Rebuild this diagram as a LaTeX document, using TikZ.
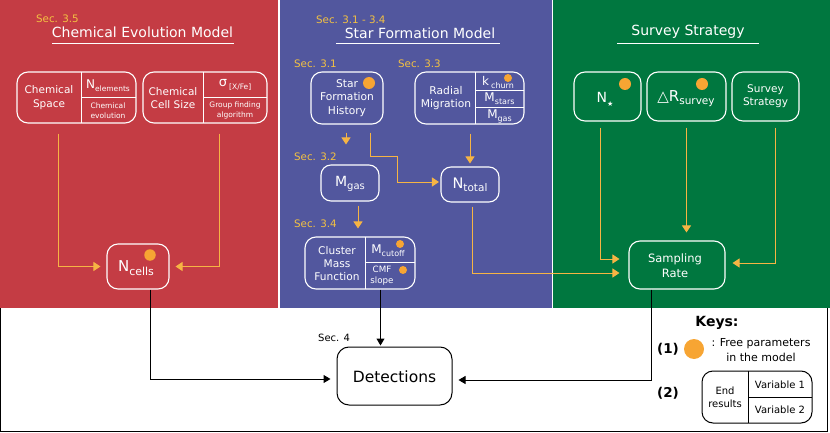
\documentclass[tikz,border=0pt]{standalone}
\usepackage{fontspec}
\setmainfont{DejaVu Sans}
\usetikzlibrary{arrows.meta,calc}
\definecolor{redp}{HTML}{C43C44}
\definecolor{bluep}{HTML}{52579E}
\definecolor{greenp}{HTML}{00773F}
\definecolor{yarr}{HTML}{F6B444}
\definecolor{secy}{HTML}{F3C142}
\definecolor{dotc}{HTML}{F7A533}
\newcommand{\fsz}[2]{\fontsize{#1}{#2}\selectfont}
\newcommand{\sbx}[2]{\raisebox{-0.45ex}{\fontsize{#1}{#1}\selectfont #2}}
\tikzset{
  wbox/.style={draw=white, line width=1.1pt, rounded corners=11pt, inner sep=0pt},
  btxt/.style={text=white, align=center, inner sep=0pt},
  ttl/.style={text=white, font=\fsz{14}{16}, inner sep=0pt},
  secl/.style={text=secy, font=\fsz{10.3}{12}, anchor=west, inner sep=0pt},
  wline/.style={draw=white, line width=1pt},
  yarrow/.style={draw=yarr, line width=1pt, -{Triangle[length=7pt,width=9pt]}},
  barrow/.style={draw=black, line width=1pt, -{Triangle[length=7pt,width=8pt]}},
  fdot/.style={circle, fill=dotc, inner sep=0pt, minimum size=#1},
  ktxt/.style={text=black, align=center, inner sep=0pt}
}
\begin{document}
\begin{tikzpicture}[x=1pt,y=-1pt]
\useasboundingbox (0,0) rectangle (830,433);
% panels
\fill[redp] (0,0) rectangle (278,308);
\fill[bluep] (280,0) rectangle (551.5,308);
\fill[greenp] (553,0) rectangle (830,308);
\draw[black, line width=0.8pt] (0.5,308) -- (0.5,431.5) -- (827.5,431.5) -- (827.5,308);

% ---------- Chemical evolution ----------
\node[secl] (s35) at (36,19) {Sec. 3.5};
\node[ttl] (tcem) at (142.5,32) {Chemical Evolution Model};
\draw[wline] (52,44) -- (234,44);

\node[wbox, minimum width=119pt, minimum height=51pt] (cs) at (76.5,97.5) {};
\draw[wline] (81,72) -- (81,123);
\draw[wline] (81,98) -- (136,98);
\node[btxt, font=\fsz{10.5}{13.5}] (csl) at (49,97.5) {Chemical\\Space};
\node[btxt, font=\fsz{12}{14}] (cs1) at (108,86) {N\sbx{7.5}{elements}};
\node[btxt, font=\fsz{7.5}{9.5}] (cs2) at (108,110.5) {Chemical\\evolution};

\node[wbox, minimum width=124pt, minimum height=51pt] (ccs) at (205,97.5) {};
\draw[wline] (203,72) -- (203,123);
\draw[wline] (203,98) -- (267,98);
\node[btxt, font=\fsz{10.5}{13.5}] (ccsl) at (173,98) {Chemical\\Cell Size};
\node[btxt, font=\fsz{13}{14}] (ccs1) at (235,85) {σ\,\sbx{7.5}{[X/Fe]}};
\node[btxt, font=\fsz{7.5}{9.5}] (ccs2) at (235,110.5) {Group finding\\algorithm};

\node[wbox, minimum width=62pt, minimum height=45pt] (ncells) at (138,266.5) {};
\node[btxt, font=\fsz{15}{16}] (ncellst) at (136,268) {N\sbx{11}{cells}};
\node[fdot=11.5pt] (dnc) at (150,255) {};

% ---------- Star formation ----------
\node[secl] (s314) at (316,20) {Sec. 3.1 - 3.4};
\node[ttl] (tsfm) at (420,33) {Star Formation Model};
\draw[wline] (336,44) -- (500,44);

\node[secl] (s31) at (294,64) {Sec. 3.1};
\node[wbox, minimum width=72pt, minimum height=52pt] (sfh) at (347,98) {};
\node[btxt, font=\fsz{10.7}{13.3}] (sfht) at (347,98) {Star\\Formation\\History};
\node[fdot=12pt] (dsfh) at (369,83) {};

\node[secl] (s33) at (398,64) {Sec. 3.3};
\node[wbox, minimum width=109pt, minimum height=52pt] (rm) at (469.5,98) {};
\draw[wline] (475,72) -- (475,124);
\draw[wline] (475,91) -- (524,91);
\draw[wline] (475,108) -- (524,108);
\node[btxt, font=\fsz{10.7}{13.5}] (rmt) at (446,98) {Radial\\Migration};
\node[btxt, font=\fsz{12}{13}] (rm1) at (498,82.5) {k\,\sbx{8}{churn}};
\node[fdot=8pt] (drm) at (508,78) {};
\node[btxt, font=\fsz{12}{13}] (rm2) at (499.5,99) {M\sbx{8}{stars}};
\node[btxt, font=\fsz{12}{13}] (rm3) at (499.5,116) {M\sbx{8}{gas}};

\node[secl] (s32) at (294,157) {Sec. 3.2};
\node[wbox, rounded corners=10pt, minimum width=58pt, minimum height=36pt] (mgas) at (350,183) {};
\node[btxt, font=\fsz{14}{15}] (mgast) at (350,184) {M\sbx{10}{gas}};

\node[wbox, rounded corners=10pt, minimum width=58pt, minimum height=35pt] (ntot) at (470,184.5) {};
\node[btxt, font=\fsz{14.5}{15}] (ntott) at (470,185) {N\sbx{10.5}{total}};

\node[secl] (s34) at (294,224) {Sec. 3.4};
\node[wbox, minimum width=110pt, minimum height=52pt] (cmf) at (360,263) {};
\draw[wline] (365,237) -- (365,289);
\draw[wline] (365,262) -- (415,262);
\node[btxt, font=\fsz{10.6}{13.3}] (cmft) at (337,263.5) {Cluster\\Mass\\Function};
\node[btxt, font=\fsz{12}{13}] (cmf1) at (388,251) {M\sbx{8}{cutoff}};
\node[fdot=8pt] (dcmf1) at (400,244) {};
\node[btxt, font=\fsz{8.7}{11.5}] (cmf2) at (382,275.5) {CMF\\slope};
\node[fdot=8pt] (dcmf2) at (403,270) {};

% ---------- Survey strategy ----------
\node[ttl] (tss) at (688,32) {Survey Strategy};
\draw[wline] (617,44) -- (759,44);

\node[wbox, minimum width=67pt, minimum height=49pt] (nstar) at (607.5,96.5) {};
\node[btxt, font=\fsz{14}{15}] (nstart) at (605,99) {N\raisebox{-0.5ex}{\fontsize{7}{7}\selectfont ★}};
\node[fdot=12pt] (dns) at (625,84) {};

\node[wbox, minimum width=79pt, minimum height=49pt] (dr) at (686.5,96.5) {};
\node[btxt, font=\fsz{15}{16}] (drt) at (686,98.5) {△R\sbx{10.5}{survey}};
\node[fdot=12pt] (ddr) at (702,84) {};

\node[wbox, minimum width=67pt, minimum height=49pt] (ss) at (765.5,96.5) {};
\node[btxt, font=\fsz{10.5}{13}] (sst) at (765.5,96.5) {Survey\\Strategy};

\node[wbox, minimum width=96pt, minimum height=48pt] (samp) at (677,265) {};
\node[btxt, font=\fsz{11.5}{15}] (sampt) at (675,266) {Sampling\\Rate};

% ---------- bottom ----------
\node[ktxt, font=\fsz{10}{12}, anchor=west] (s4) at (318,338) {Sec. 4};
\node[draw=black, line width=1pt, rounded corners=12pt, minimum width=115pt, minimum height=58pt, inner sep=0pt] (det) at (394.5,376) {};
\node[ktxt, font=\fsz{15.5}{17}] (dett) at (394.5,377) {Detections};

\node[ktxt, font=\bfseries\fsz{14}{16}] (keys) at (717,323) {Keys:};
\node[ktxt, font=\bfseries\fsz{13.5}{16}] (k1) at (668,349) {(1)};
\node[fdot=20pt] (dkey) at (694,349) {};
\node[ktxt, font=\fsz{11}{14.5}] (k1t) at (761,350) {: Free parameters\\in the model};
\node[ktxt, font=\bfseries\fsz{13.5}{16}] (k2) at (668,393) {(2)};
\node[draw=black, line width=1pt, rounded corners=11pt, minimum width=110pt, minimum height=52pt, inner sep=0pt] (kbox) at (757,397) {};
\draw[black, line width=0.8pt] (748,371) -- (748,423);
\draw[black, line width=0.8pt] (748,397) -- (812,397);
\node[ktxt, font=\fsz{10}{13}] (kbl) at (725,397) {End\\results};
\node[ktxt, font=\fsz{10}{12}] (kb1) at (780,385) {Variable 1};
\node[ktxt, font=\fsz{10}{12}] (kb2) at (780,410) {Variable 2};

% ---------- connectors ----------
\draw[yarrow, shorten >=6pt] ([xshift=-18.5pt,yshift=-10pt]cs.south) |- (ncells.west);
\draw[yarrow, shorten >=6pt] ([xshift=14pt,yshift=-10pt]ccs.south) |- (ncells.east);
\draw[barrow, shorten >=6pt] ([xshift=12pt]ncells.south) |- ([yshift=-3pt]det.west);

\draw[yarrow, shorten <=8pt, shorten >=20pt] ([xshift=-1pt]sfh.south) -- ([xshift=-1pt]sfh.south |- mgas.north);
\draw[yarrow, shorten >=1.5pt] ([xshift=23pt,yshift=-8pt]sfh.south) -- ++(0,24) -- ++(27,0) |- ([yshift=2.5pt]ntot.west);
\draw[yarrow, shorten >=3pt] ([xshift=0.5pt,yshift=-9pt]rm.south) -- ([xshift=0.5pt]rm.south |- ntot.north);
\draw[yarrow, shorten >=8pt] ([xshift=8pt,yshift=-4pt]mgas.south) -- ([xshift=8pt]mgas.south |- cmf.north);
\draw[barrow, shorten >=1pt] ([xshift=20.5pt]cmf.south) -- ([xshift=20.5pt]cmf.south |- det.north);
\draw[yarrow, shorten >=9pt] ([xshift=2pt,yshift=-4pt]ntot.south) |- ([yshift=-8pt]samp.west);

\draw[yarrow, shorten >=9pt] ([xshift=-7.5pt,yshift=-6pt]nstar.south) |- ([yshift=6pt]samp.west);
\draw[yarrow, shorten >=8pt] ([yshift=-6pt]dr.south) -- (dr.south |- samp.north);
\draw[yarrow, shorten >=7pt] ([xshift=9.5pt,yshift=-6pt]ss.south) |- ([yshift=2pt]samp.east);
\draw[barrow, shorten >=6pt] ([xshift=-26pt]samp.south) |- ([yshift=-4pt]det.east);
\end{tikzpicture}
\end{document}
